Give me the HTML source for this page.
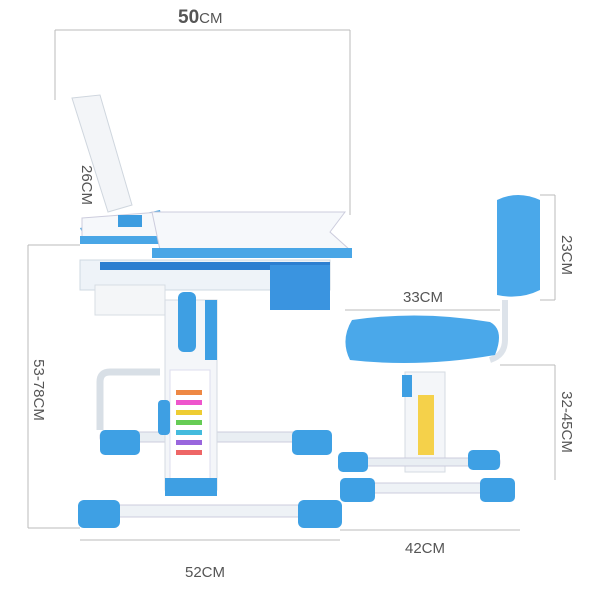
<!DOCTYPE html>
<html><head><meta charset="utf-8"><style>
html,body{margin:0;padding:0;background:#fff;}
svg{display:block;font-family:"Liberation Sans",sans-serif;}
</style></head><body>
<svg width="600" height="600" viewBox="0 0 600 600">
<rect width="600" height="600" fill="#fff"/>
<!-- dimension lines -->
<g stroke="#bbb" stroke-width="1" fill="none">
<line x1="55" y1="30" x2="350" y2="30"/>
<line x1="55" y1="30" x2="55" y2="100"/>
<line x1="350" y1="30" x2="350" y2="215"/>
<line x1="28" y1="245" x2="28" y2="528"/>
<line x1="28" y1="245" x2="80" y2="245"/>
<line x1="28" y1="528" x2="80" y2="528"/>
<line x1="80" y1="540" x2="340" y2="540"/>
<line x1="540" y1="195" x2="555" y2="195"/>
<line x1="555" y1="195" x2="555" y2="300"/>
<line x1="540" y1="300" x2="555" y2="300"/>
<line x1="500" y1="365" x2="555" y2="365"/>
<line x1="555" y1="365" x2="555" y2="480"/>
<line x1="345" y1="310" x2="500" y2="310"/>
<line x1="340" y1="530" x2="520" y2="530"/>
</g>
<!-- labels -->
<text x="178" y="23" font-size="19" fill="#555" font-weight="bold">50<tspan font-size="15" font-weight="normal">CM</tspan></text>
<text transform="translate(82,185) rotate(90)" font-size="15" fill="#555" text-anchor="middle">26CM</text>
<text transform="translate(34,390) rotate(90)" font-size="15" fill="#555" text-anchor="middle">53-78CM</text>
<text x="205" y="577" font-size="15" fill="#555" text-anchor="middle">52CM</text>
<text x="425" y="553" font-size="15" fill="#555" text-anchor="middle">42CM</text>
<text x="423" y="302" font-size="15" fill="#555" text-anchor="middle">33CM</text>
<text transform="translate(562,255) rotate(90)" font-size="15" fill="#555" text-anchor="middle">23CM</text>
<text transform="translate(562,422) rotate(90)" font-size="15" fill="#555" text-anchor="middle">32-45CM</text>

<!-- desk book stand -->
<polygon points="72,98 100,95 132,205 108,212" fill="#f3f5f8" stroke="#cfd6de"/>
<polygon points="80,228 160,210 165,232 85,238" fill="#4aa3e0"/>
<!-- left tabletop -->
<polygon points="82,218 160,212 162,238 82,238" fill="#f6f8fb" stroke="#ccd"/>
<rect x="80" y="236" width="82" height="8" fill="#49a6e6"/>
<rect x="118" y="215" width="24" height="12" fill="#3c9ce0"/>
<!-- right tabletop -->
<polygon points="152,212 345,212 330,232 350,250 160,250" fill="#f6f8fb" stroke="#ccd"/>
<rect x="152" y="248" width="200" height="10" fill="#49a6e6"/>
<!-- under frame / drawer -->
<rect x="80" y="260" width="250" height="30" fill="#eef3f8" stroke="#cfd8e2"/>
<rect x="100" y="262" width="230" height="8" fill="#2d7fd0"/>
<rect x="270" y="265" width="60" height="45" fill="#3a94e0"/>
<rect x="95" y="285" width="70" height="30" fill="#f4f6f8" stroke="#d7dde3"/>
<!-- back base -->
<rect x="100" y="432" width="230" height="10" rx="4" fill="#e9eef3" stroke="#ccd"/>
<rect x="100" y="430" width="40" height="25" rx="5" fill="#3ea0e4"/>
<rect x="292" y="430" width="40" height="25" rx="5" fill="#3ea0e4"/>
<path d="M160,372 L110,372 Q100,372 100,382 L100,430" stroke="#d8dfe6" stroke-width="7" fill="none"/>
<!-- column -->
<rect x="165" y="300" width="52" height="190" fill="#f4f6f9" stroke="#d5dbe2"/>
<rect x="205" y="300" width="12" height="60" fill="#3e9fe3"/>
<rect x="178" y="292" width="18" height="60" rx="6" fill="#3e9fe3"/>
<rect x="170" y="370" width="40" height="110" fill="#fff" stroke="#dde"/>
<g>
<rect x="176" y="390" width="26" height="5" fill="#e84"/>
<rect x="176" y="400" width="26" height="5" fill="#e5c"/>
<rect x="176" y="410" width="26" height="5" fill="#ec3"/>
<rect x="176" y="420" width="26" height="5" fill="#6c5"/>
<rect x="176" y="430" width="26" height="5" fill="#4bd"/>
<rect x="176" y="440" width="26" height="5" fill="#96d"/>
<rect x="176" y="450" width="26" height="5" fill="#e66"/>
</g>
<rect x="158" y="400" width="12" height="35" rx="4" fill="#3e9fe3"/>
<rect x="165" y="478" width="52" height="18" fill="#3e9fe3"/>
<!-- front base -->
<rect x="85" y="505" width="250" height="12" rx="5" fill="#eef2f6" stroke="#ccd"/>
<rect x="78" y="500" width="42" height="28" rx="6" fill="#3ea0e4"/>
<rect x="298" y="500" width="44" height="28" rx="6" fill="#3ea0e4"/>

<!-- chair back -->
<path d="M497,200 Q518,190 540,200 L540,290 Q520,300 497,295 Z" fill="#4aa8ea"/>
<path d="M505,300 L505,340 Q505,355 490,360" stroke="#dde3ea" stroke-width="6" fill="none"/>
<!-- seat -->
<path d="M352,320 Q420,310 490,322 Q505,330 495,355 Q420,368 350,360 Q340,340 352,320 Z" fill="#4aa8ea"/>
<!-- chair column -->
<rect x="405" y="372" width="40" height="100" fill="#f4f6f9" stroke="#d5dbe2"/>
<rect x="418" y="395" width="16" height="60" fill="#f5d14a"/>
<rect x="402" y="375" width="10" height="22" fill="#3e9fe3"/>
<!-- chair bases -->
<rect x="340" y="458" width="160" height="8" rx="3" fill="#e9eef3" stroke="#ccd"/>
<rect x="338" y="452" width="30" height="20" rx="5" fill="#3ea0e4"/>
<rect x="468" y="450" width="32" height="20" rx="5" fill="#3ea0e4"/>
<rect x="345" y="483" width="165" height="10" rx="4" fill="#eef2f6" stroke="#ccd"/>
<rect x="340" y="478" width="35" height="24" rx="5" fill="#3ea0e4"/>
<rect x="480" y="478" width="35" height="24" rx="5" fill="#3ea0e4"/>
</svg>
</body></html>
